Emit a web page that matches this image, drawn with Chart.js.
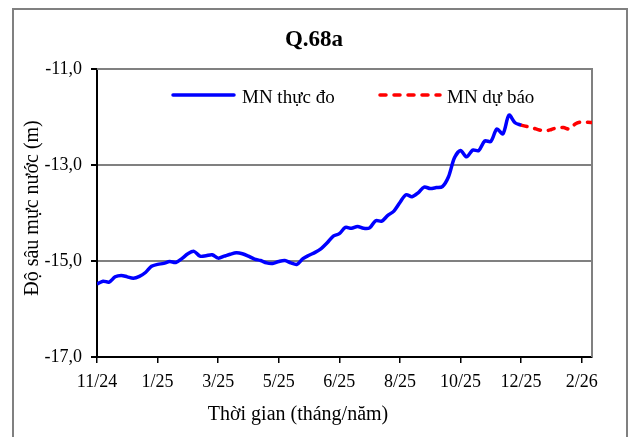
<!DOCTYPE html>
<html>
<head>
<meta charset="utf-8">
<script src="https://cdn.jsdelivr.net/npm/chart.js@4"></script>
<style>
  body { margin: 0; background: #fff; }
</style>
</head>
<body>
<canvas id="chart" width="629" height="437"></canvas>
<script>
// Nhãn trục thời gian (mỗi vạch cách 10 điểm)
const tickLabels = ['11/24', '1/25', '3/25', '5/25', '6/25', '8/25', '10/25', '12/25', '2/26'];

// Mực nước thực đo (m)
const observed = [
  -15.48, -15.42, -15.44, -15.33, -15.30, -15.33, -15.36, -15.32, -15.24, -15.11,
  -15.07, -15.05, -15.01, -15.03, -14.95, -14.85, -14.80, -14.90, -14.89, -14.87,
  -14.94, -14.90, -14.86, -14.83, -14.85, -14.90, -14.96, -14.99, -15.04, -15.05,
  -15.01, -14.99, -15.04, -15.07, -14.95, -14.88, -14.82, -14.74, -14.62, -14.48,
  -14.43, -14.30, -14.32, -14.28, -14.32, -14.31, -14.16, -14.17, -14.05, -13.96,
  -13.78, -13.62, -13.66, -13.58, -13.46, -13.49, -13.47, -13.45, -13.25, -12.85,
  -12.70, -12.83, -12.69, -12.70, -12.50, -12.51, -12.25, -12.35, -11.96, -12.12,
  -12.17
];

// Mực nước dự báo (m), bắt đầu từ điểm thực đo cuối cùng
const forecast = [-12.17, -12.20, -12.23, -12.27, -12.29, -12.26, -12.22, -12.22, -12.25, -12.14, -12.10, -12.11, -12.12];

const forecastStart = observed.length - 1;
const serif = "'Liberation Serif', 'Times New Roman', serif";

const decor = {
  id: 'decor',
  beforeDraw(chart) {
    const ctx = chart.ctx;
    ctx.save();
    ctx.fillStyle = '#fff';
    ctx.fillRect(0, 0, chart.width, chart.height);
    ctx.restore();
  },
  beforeDatasetsDraw(chart) {
    const ctx = chart.ctx, a = chart.chartArea;
    ctx.save();
    ctx.strokeStyle = '#808080';
    ctx.lineWidth = 2;
    ctx.beginPath();
    ctx.moveTo(a.left, a.top);
    ctx.lineTo(a.right, a.top);
    ctx.lineTo(a.right, a.bottom);
    ctx.stroke();
    ctx.restore();
  },
  afterDraw(chart) {
    const ctx = chart.ctx;
    ctx.save();
    // khung ngoài
    ctx.strokeStyle = '#808080';
    ctx.lineWidth = 2;
    ctx.strokeRect(13, 9, 614, 440);

    // tiêu đề
    ctx.fillStyle = '#000';
    ctx.font = 'bold 23px ' + serif;
    ctx.textAlign = 'center';
    ctx.textBaseline = 'alphabetic';
    ctx.fillText('Q.68a', 314, 46);

    // chú thích
    ctx.lineWidth = 3.5;
    ctx.lineCap = 'round';
    ctx.strokeStyle = '#0000ff';
    ctx.beginPath();
    ctx.moveTo(173, 95);
    ctx.lineTo(234, 95);
    ctx.stroke();
    ctx.strokeStyle = '#ff0000';
    ctx.setLineDash([6, 8]);
    ctx.beginPath();
    ctx.moveTo(380, 95);
    ctx.lineTo(440, 95);
    ctx.stroke();
    ctx.setLineDash([]);
    ctx.font = '19px ' + serif;
    ctx.textAlign = 'left';
    ctx.fillText('MN thực đo', 242, 103);
    ctx.fillText('MN dự báo', 447, 103);

    // tiêu đề trục
    ctx.textAlign = 'center';
    ctx.textBaseline = 'middle';
    ctx.font = '20px ' + serif;
    ctx.fillText('Thời gian (tháng/năm)', 298, 415);
    ctx.translate(33, 208);
    ctx.rotate(-Math.PI / 2);
    ctx.fillText('Độ sâu mực nước (m)', 0, 0);
    ctx.restore();
  }
};

new Chart(document.getElementById('chart'), {
  type: 'line',
  data: {
    datasets: [
      {
        label: 'MN thực đo',
        data: observed.map((v, i) => ({ x: i, y: v })),
        borderColor: '#0000ff',
        borderWidth: 3.5,
        pointRadius: 0,
        tension: 0.3
      },
      {
        label: 'MN dự báo',
        data: forecast.map((v, i) => ({ x: forecastStart + i, y: v })),
        borderColor: '#ff0000',
        borderWidth: 3.5,
        borderDash: [6, 8],
        borderCapStyle: 'round',
        pointRadius: 0,
        tension: 0.3
      }
    ]
  },
  options: {
    responsive: false,
    animation: false,
    layout: { padding: { top: 69, right: 37, bottom: 0, left: 0 } },
    plugins: {
      legend: { display: false },
      tooltip: { enabled: false }
    },
    scales: {
      x: {
        type: 'linear',
        min: 0,
        max: 81.7,
        afterFit: s => { s.height = 80; },
        grid: { drawOnChartArea: false, tickLength: 6, tickColor: '#000', lineWidth: 1.5 },
        border: { color: '#000', width: 2 },
        ticks: {
          stepSize: 10,
          includeBounds: false,
          autoSkip: false,
          maxRotation: 0,
          padding: 8,
          color: '#000',
          font: { family: serif, size: 18 },
          callback: v => tickLabels[v / 10] ?? ''
        }
      },
      y: {
        min: -17,
        max: -11,
        afterFit: s => { s.width = 97; },
        grid: { color: '#808080', lineWidth: 2, tickLength: 6, tickColor: '#000' },
        border: { color: '#000', width: 2 },
        ticks: {
          stepSize: 2,
          padding: 9,
          color: '#000',
          font: { family: serif, size: 18 },
          callback: v => v.toFixed(1).replace('.', ',')
        }
      }
    }
  },
  plugins: [decor]
});
</script>
</body>
</html>
